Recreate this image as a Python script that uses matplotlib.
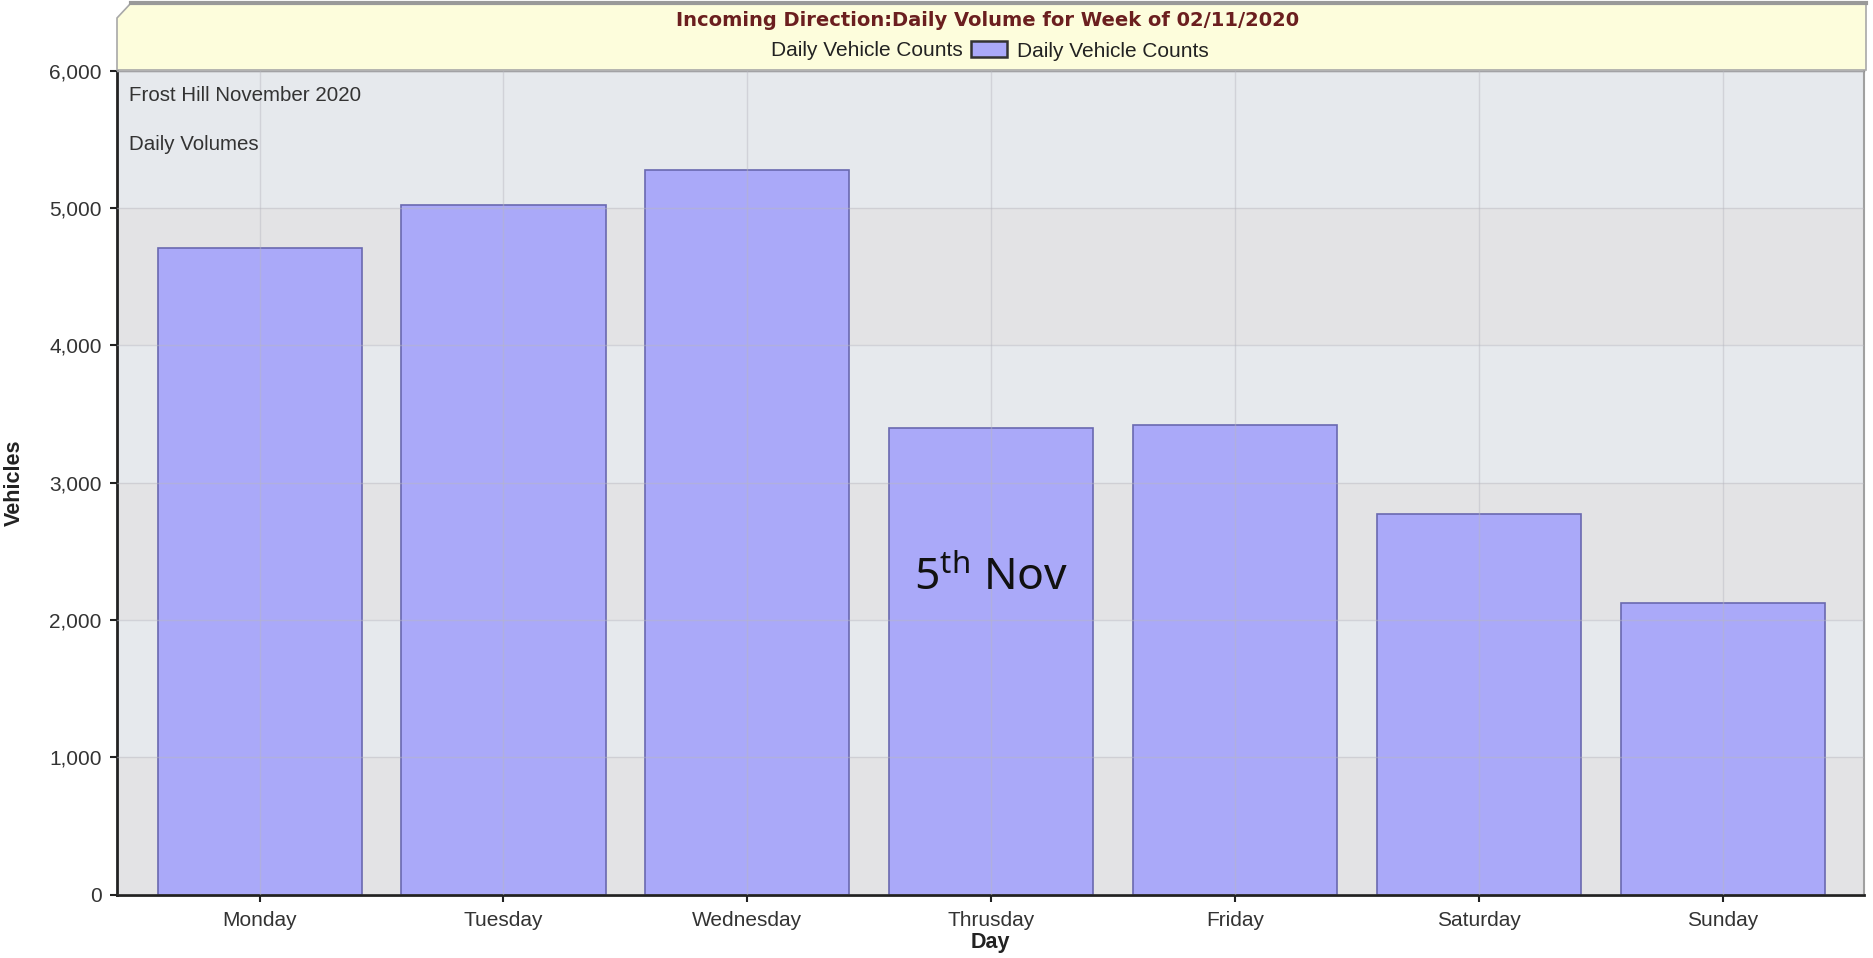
import matplotlib.pyplot as plt
from matplotlib.patches import Polygon, Patch
from matplotlib.ticker import FuncFormatter

plt.rcParams['font.family'] = ['Liberation Sans', 'DejaVu Sans']
plt.rcParams['mathtext.fontset'] = 'custom'
plt.rcParams['mathtext.rm'] = 'Noto Sans'

days = ['Monday', 'Tuesday', 'Wednesday', 'Thrusday', 'Friday', 'Saturday', 'Sunday']
counts = [4706, 5022, 5277, 3396, 3418, 2771, 2125]
title = 'Incoming Direction:Daily Volume for Week of 02/11/2020'
series = 'Daily Vehicle Counts'
bar_color = '#aaa9f9'

W, H = 1874, 958
fig = plt.figure(figsize=(W / 100, H / 100), dpi=100)
ax = fig.add_axes([117 / W, 1 - 894.5 / H, (1864 - 117) / W, (894.5 - 70.7) / H])

# alternating bands behind the bars
for i in range(6):
    ax.axhspan(i * 1000, (i + 1) * 1000, color='#e6e9ed' if i % 2 else '#e3e3e5', zorder=0, lw=0)

x = list(range(len(days)))
bars = ax.bar(x, counts, width=0.837, color=bar_color, edgecolor='#6a69b0', linewidth=1.2,
              zorder=2, label=series)

ax.set_xlim(-0.585, 6.58)
ax.set_ylim(0, 6000)
ax.set_yticks(range(0, 6001, 1000))
ax.yaxis.set_major_formatter(FuncFormatter(lambda v, p: f'{int(v):,}'))
ax.set_xticks(x)
ax.set_xticklabels(days)
ax.grid(True, color='#b8b8c0', alpha=0.45, lw=1, zorder=3)
ax.set_axisbelow(False)
ax.tick_params(labelsize=15, colors='#222', labelcolor='#333', length=5, width=1.5)
ax.tick_params(axis='x', pad=7)
ax.tick_params(axis='y', pad=6)

for s in ['left', 'bottom']:
    ax.spines[s].set_color('#222')
    ax.spines[s].set_linewidth(2)
ax.spines['right'].set_color('#a0a0a0')
ax.spines['right'].set_linewidth(1.5)
ax.spines['top'].set_color('#909090')
ax.spines['top'].set_linewidth(1)

ax.set_ylabel('Vehicles', fontsize=15.5, fontweight='bold', color='#222')
ax.yaxis.set_label_coords(-0.053, 0.5)
ax.set_xlabel('Day', fontsize=15.5, fontweight='bold', color='#222')
ax.xaxis.set_label_coords(0.5, -0.045)

ax.text(0.007, 0.982, 'Frost Hill November 2020', transform=ax.transAxes, fontsize=14.8,
        color='#333', va='top')
ax.text(0.007, 0.922, 'Daily Volumes', transform=ax.transAxes, fontsize=14.8,
        color='#333', va='top')

ax.text(3, 2300, r'5$^{\mathrm{th}}$ Nov', family=['Noto Sans', 'DejaVu Sans'], fontsize=32,
        ha='center', va='center', color='#111', zorder=4)

# yellow header strip
pts = [(117, 70), (117, 18), (131, 3), (1866, 3), (1866, 70)]
hdr = Polygon([(px / W, 1 - py / H) for px, py in pts], closed=True, transform=fig.transFigure,
              facecolor='#fdfddc', edgecolor='#a8a8a8', lw=1.2)
fig.patches.append(hdr)
fig.add_artist(plt.Line2D([131 / W, 1866 / W], [1 - 3 / H, 1 - 3 / H], color='#999', lw=3))

fig.text(988 / W, 1 - 20 / H, title, ha='center', va='center', fontsize=14, fontweight='bold',
         color='#6b1f1f', family='DejaVu Sans')
fig.text(963 / W, 1 - 51 / H, series, ha='right', va='center', fontsize=15, color='#222')
swatch = Patch(facecolor=bar_color, edgecolor='#333', lw=1.8)
fig.legend(handles=[swatch], labels=[series], loc='center left', bbox_to_anchor=(971 / W, 1 - 51 / H),
           frameon=False, fontsize=15, handlelength=1.73, handleheight=0.77, handletextpad=0.5,
           borderpad=0, borderaxespad=0, labelcolor='#222')

fig.savefig('out.png', dpi=100)
